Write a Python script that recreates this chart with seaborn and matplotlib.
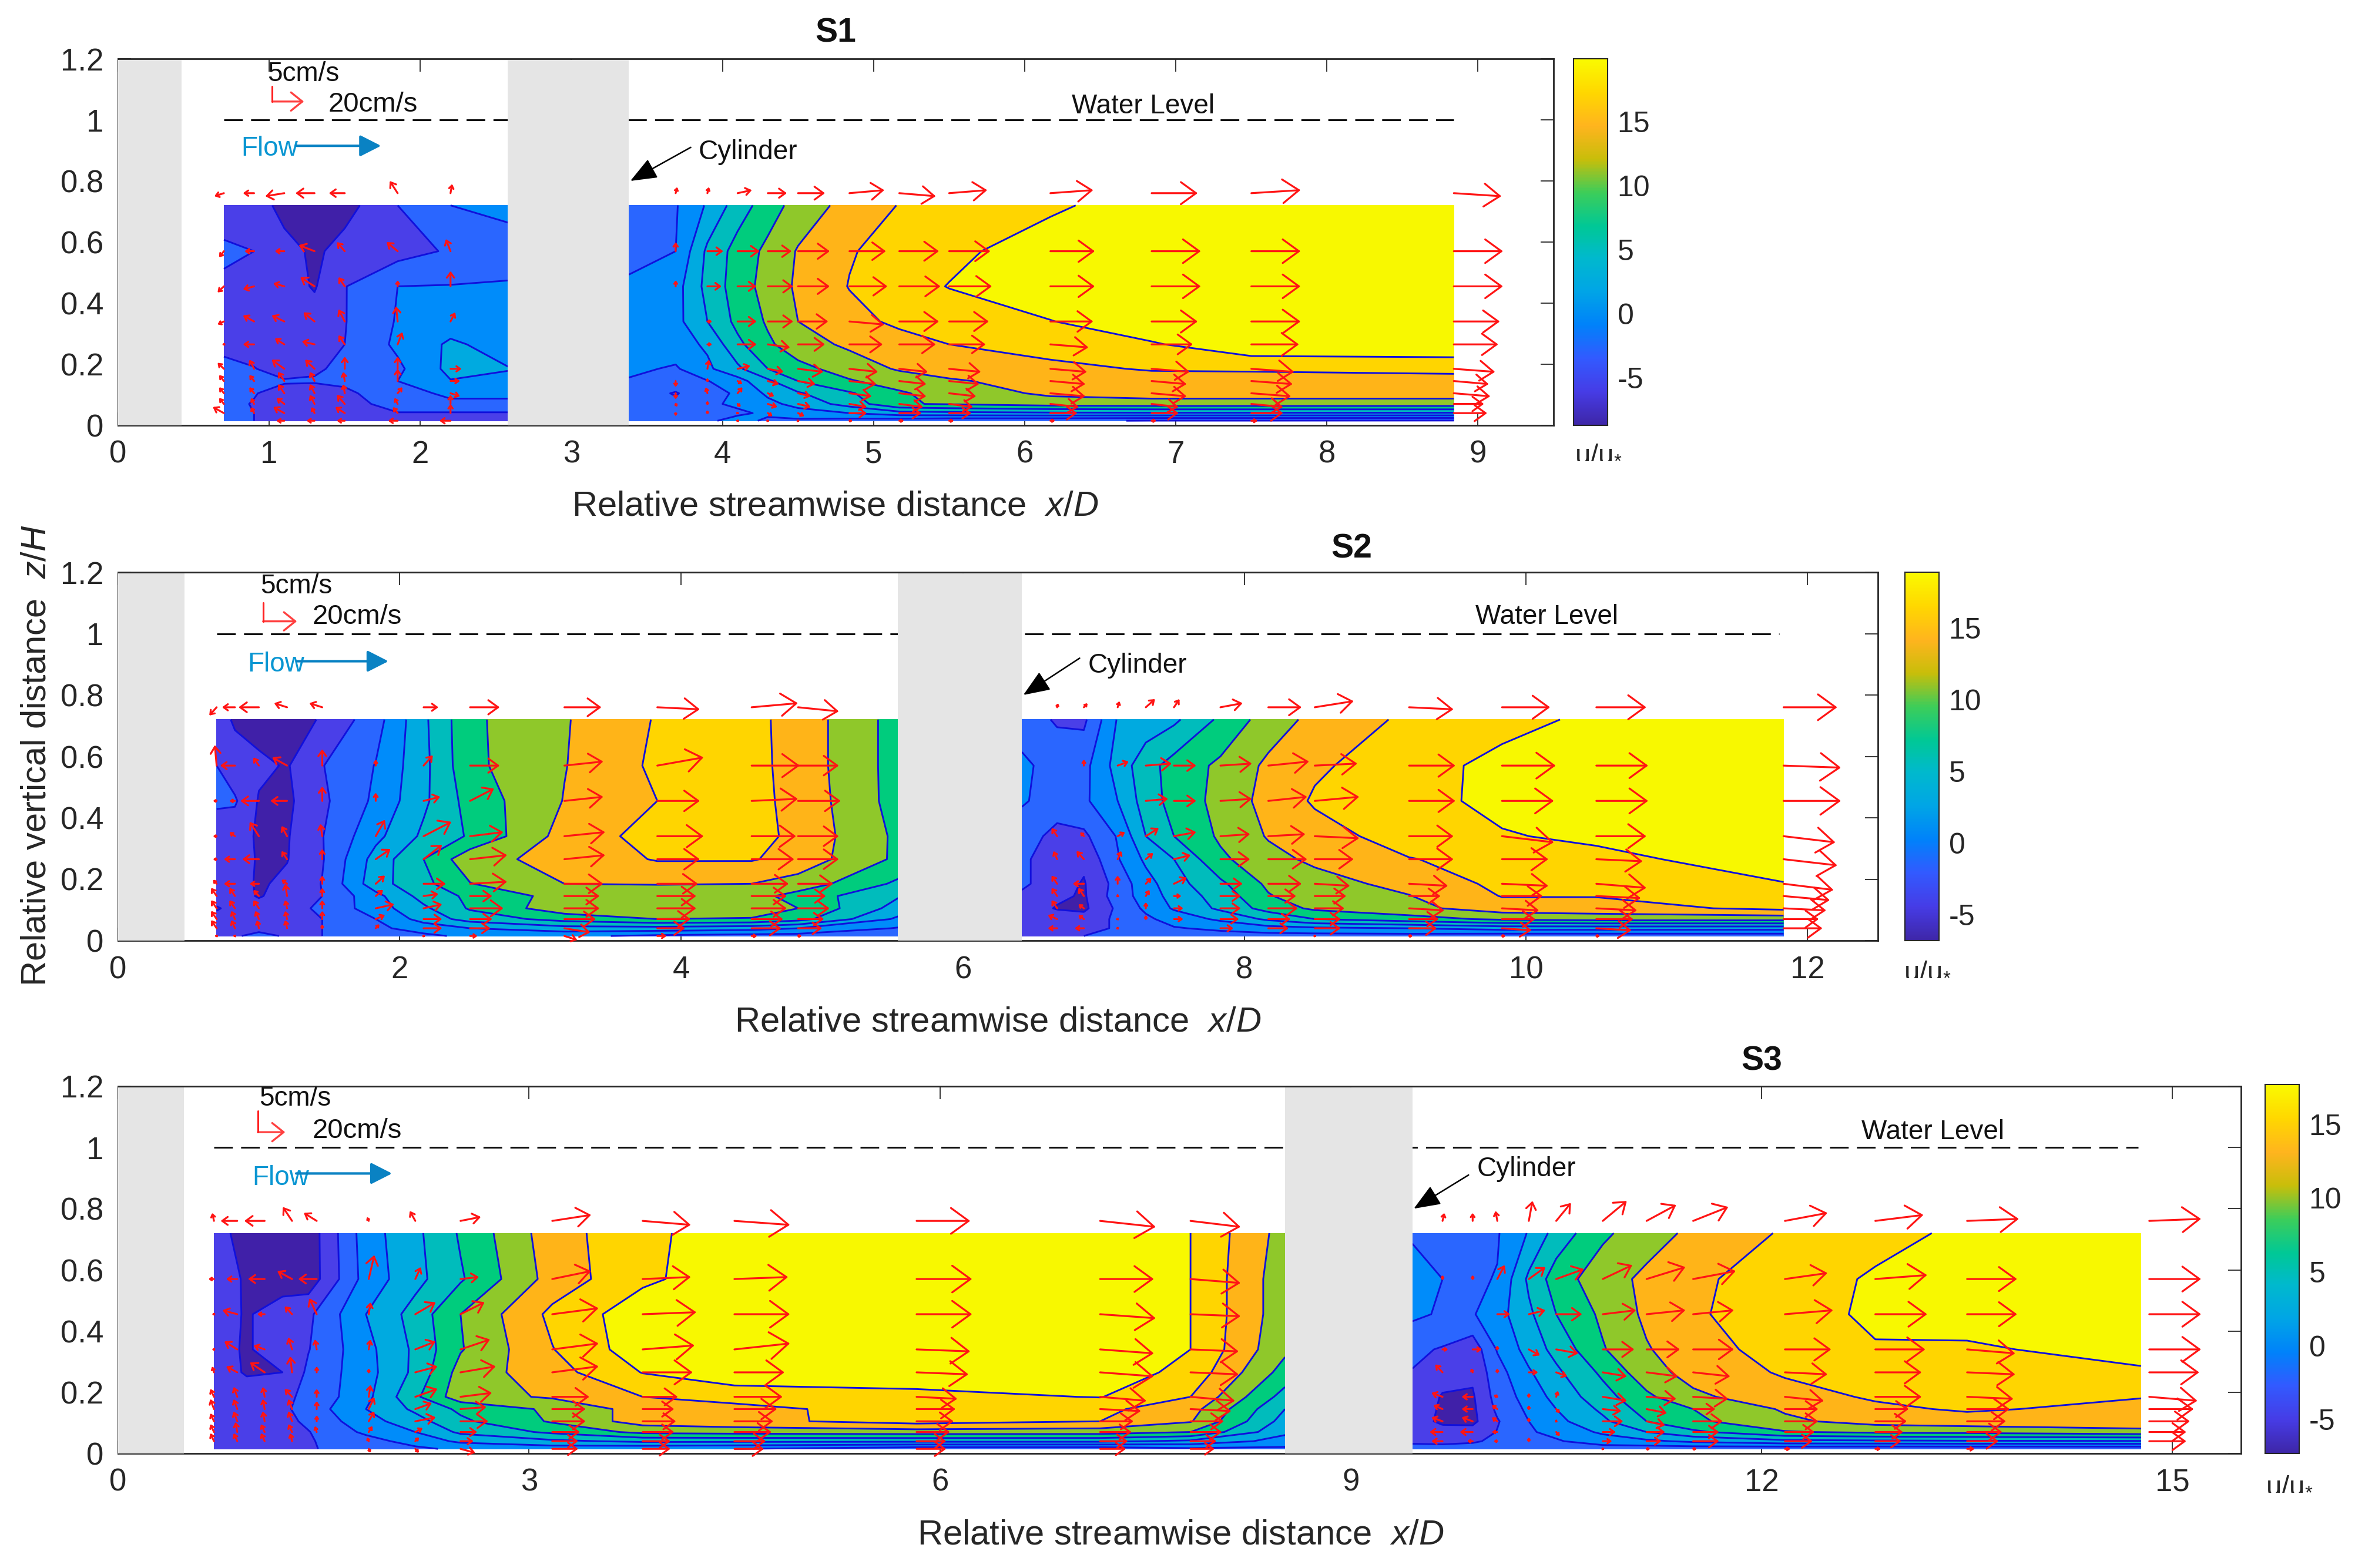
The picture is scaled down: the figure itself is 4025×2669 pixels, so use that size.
import numpy as np
import seaborn as sns
import matplotlib
matplotlib.use("Agg")
import matplotlib.pyplot as plt
from matplotlib.patches import ArrowStyle

# contour levels of u/u* and the height rows of the measured points
LEVELS = [-6, -3.5, -1, 1.5, 4, 6.5, 9, 11.5, 14, 16.5]
Z_ROWS = [0.72, 0.57, 0.455, 0.34, 0.265, 0.185, 0.145, 0.105, 0.07, 0.04, 0.015]
ARROW_ROWS = [0.76, 0.57, 0.455, 0.34, 0.265, 0.185, 0.145, 0.105, 0.07, 0.04, 0.015]

# ---- S1 ----
S1L_XC = [0.7, 0.9, 1.1, 1.3, 1.5, 1.85, 2.2, 2.58]
S1L_C = [
    [-5, -4.5, -7, -7.5, -7, -3.5, -1, -0.4],
    [-3, -3.5, -5, -6.5, -5, -4.5, -3.2, -2],
    [-4, -5, -5, -6.2, -3.6, -1, -0.9, -0.8],
    [-4.5, -5, -5, -5, -3.6, -0.8, 0.3, 0.3],
    [-4, -4.5, -5, -4.8, -3.5, -0.5, 1.9, 0.5],
    [-3, -3.4, -4.5, -3.8, -3, -1.5, 2.2, 1.6],
    [-3, -3.2, -3.3, -3.3, -3, -1, 1.4, 1],
    [-3, -3.4, -4.2, -4.5, -4, -2, -0.5, -0.5],
    [-3, -3.6, -5, -5, -4.5, -2.5, -1.5, -1.5],
    [-3, -3.5, -5, -5, -4.5, -3.6, -3.7, -3.7],
    [-3, -3.5, -5, -5, -5, -4.5, -4.5, -4.5],
]
S1R_XC = [3.38, 3.69, 3.9, 4.1, 4.3, 4.5, 4.84, 5.17, 5.5, 6.17, 6.84, 7.5, 8.84]
S1R_C = [
    [-2, -1.2, 1.8, 5.2, 7.8, 10, 12.4, 14.1, 14.6, 16, 18, 19, 19],
    [-2, -1, 4.5, 7.5, 9.6, 11.7, 13.8, 15, 15.8, 18, 19, 19, 19],
    [-0.5, 0.5, 4.8, 7.7, 10, 11.9, 14.1, 15.4, 16.6, 18.5, 19, 19, 19],
    [0, 0.7, 4, 7.2, 9.3, 11.5, 13.2, 14.5, 15, 16.4, 18.5, 19, 19],
    [0, 0.4, 1.9, 5.9, 8.6, 10.3, 12, 13, 14, 15, 16.2, 18.5, 18.5],
    [-0.5, -1.3, 1, 3.5, 6.5, 8.3, 10, 11.8, 12.6, 13.4, 14.2, 14.3, 14.7],
    [-1.2, -2, -1.1, 0.5, 3.5, 6.5, 8.8, 10, 11.2, 12.5, 13, 13, 13],
    [-2, -3.7, -1.8, -0.7, 2, 3.7, 6.2, 8.7, 10, 12, 12.5, 12.5, 12.5],
    [-2, -3, -1.5, -0.5, 0.8, 2.3, 5, 8.8, 9.2, 10.2, 10.5, 10.5, 10.5],
    [-2, -2.5, -1.6, -1.5, -0.5, 0.5, 1.5, 3, 3.3, 3.6, 3.7, 3.7, 3.7],
    [-2, -2.2, -1.5, 0, -1.5, -1.5, -2, -2.5, -3, -3.2, -3.6, -3.6, -3.7],
]
S1L_XA = [0.7, 0.9, 1.1, 1.3, 1.5, 1.85, 2.2]
S1L_U = [
    [-6, -7, -12, -12, -10, -5, 1],
    [-3, -6, -6, -10, -5, -7, -3],
    [-4, -7, -7, -9, -4, 0, 0],
    [-4, -7, -8, -7, -4, -1, 3],
    [-1, -7, -6, -8, -4, 3, 0],
    [-4, -3, -8, -6, 0, 0, 7],
    [-3, -3, -4, -3, -1, 0, 6],
    [-3, -3, -4, -3, -1, 3, 6],
    [-3, -2, -5, -3, -5, -2, 0],
    [-7, -2, -7, -2, -6, -3, 0],
    [0, 0, -5, -5, -5, -6, -7],
]
S1L_V = [
    [-1, 0, -1, 0, 0, 4, 3],
    [-2, 0, 0, 2, 3, 3, 4],
    [-2, -1, 1, 3, 3, 2, 5],
    [-1, 2, 2, 3, 4, 5, 3],
    [0, 0, 2, 1, 3, 4, 0],
    [2, 3, 3, 3, 4, 4, 0],
    [2, 2, 3, 3, 3, 4, 0],
    [2, 2, 3, 3, 3, 2, -1],
    [2, 2, 2, 3, 3, 2, 3],
    [2, 2, 2, 2, 2, 2, 3],
    [0, 0, 0, 0, 0, 0, 0],
]
S1R_XA = [3.69, 3.9, 4.1, 4.3, 4.5, 4.84, 5.17, 5.5, 6.17, 6.84, 7.5, 8.84]
S1R_U = [
    [1, 1, 9, 12, 17, 22, 23, 24, 27, 29, 31, 30],
    [0, 10, 14, 15, 20, 23, 25, 26, 28, 31, 31, 31],
    [0, 9, 12, 16, 20, 24, 26, 27, 28, 31, 31, 31],
    [0, 3, 12, 16, 19, 22, 25, 25, 27, 29, 31, 29],
    [0, 3, 12, 14, 17, 21, 23, 23, 24, 26, 30, 28],
    [0, 1, 8, 10, 16, 18, 18, 20, 23, 24, 27, 26],
    [0, 0, 3, 7, 11, 17, 17, 19, 22, 22, 26, 22],
    [0, -1, 3, 4, 8, 14, 17, 17, 22, 22, 25, 23],
    [1, 0, 2, 6, 8, 11, 15, 15, 18, 17, 20, 19],
    [0, 0, 1, 3, 4, 11, 14, 14, 17, 17, 20, 21],
    [0, 0, -1, 1, 1, 2, 3, 3, 3, 3, 4, 0],
]
S1R_V = [
    [2, 2, 1, 0, 0, 1, -1, 1, 1, 0, 1, -1],
    [3, 0, 0, 0, 0, 0, 0, 0, 0, 0, 0, 0],
    [2, 0, 0, 0, 0, 0, 0, 0, 0, 0, 0, 0],
    [0, 0, 0, 0, 0, -1, 0, 0, 0, 0, 0, 0],
    [0, 0, 0, -1, 0, 0, 0, 0, -1, 0, 0, 0],
    [0, 3, 1, -1, -1, -1, -1, -1, -1, -1, -1, -1],
    [-2, 1, -1, -1, -1, -1, -1, -1, -1, -1, -1, -1],
    [-2, 2, 2, -1, -1, -1, -1, -1, -1, -1, -1, -1],
    [-1, 1, -1, -1, -1, -1, -1, -1, -1, -1, -1, 0],
    [-1, 1, 0, -1, -1, 0, 0, 0, 0, 0, 0, 0],
    [0, 0, 0, 0, 0, 0, 0, 0, 0, 0, 0, 0],
]

# ---- S2 ----
S2L_XC = [0.7, 0.83, 1.0, 1.2, 1.45, 1.83, 2.17, 2.5, 3.17, 3.83, 4.5, 4.83, 5.54]
S2L_C = [
    [-5, -6.3, -7, -7, -5.8, -2, 3.5, 8.5, 11.3, 14.2, 14.7, 13, 8],
    [-3.5, -5, -5.5, -6.2, -3.6, -0.9, 3.3, 8.4, 11.4, 14.5, 14.8, 13, 8],
    [-3.2, -3.2, -6.2, -6.5, -4, -0.5, 3.5, 7.5, 11.6, 14, 14.8, 13.2, 8],
    [-4.5, -5, -6.3, -6.2, -3.6, 0.8, 4.5, 6.8, 12.5, 15, 15, 13.3, 8.5],
    [-5, -5, -6.2, -6.1, -3.7, 2.5, 6.5, 10.7, 12.3, 14.2, 14.2, 13, 8.5],
    [-4.6, -5, -6.3, -5.5, -3.4, 3, 5.8, 8.9, 11.5, 11.6, 11.5, 10.5, 6],
    [-4.5, -5, -6.2, -5, -3.5, 0.7, 5, 7, 10, 10.4, 10, 8, 4.2],
    [-6.3, -5, -5, -4.5, -3, 0.3, 3.5, 6.8, 10.5, 10.5, 10.5, 9, 3],
    [-5, -5, -4.8, -4.6, -3.5, -1, 2.5, 5, 7.5, 9, 8.8, 7.5, 1],
    [-4.5, -4.5, -4, -4, -3.5, -1.5, 0, 1.5, 3, 3, 2.5, 1.5, -1.2],
    [-4, -3.7, -3, -3.7, -3.5, -2.5, -1.5, -0.5, -0.5, -1.5, -2, -2, -3],
]
S2R_XC = [6.42, 6.67, 6.86, 7.1, 7.3, 7.5, 7.83, 8.17, 8.5, 9.17, 9.83, 10.5, 11.83]
S2R_C = [
    [-2.2, -3.8, -4, 1.7, 2.5, 3.5, 7, 10.2, 12.2, 14.5, 15.7, 17, 18],
    [-0.5, -2, -1.8, 2.5, 5.5, 7.5, 9.5, 12, 13.6, 15.5, 17.2, 18, 18],
    [-0.8, -1.8, -1.5, 1.5, 5.2, 7.4, 9.8, 12.4, 14.3, 15.6, 17.2, 18, 18],
    [-2, -4.5, -4, -0.8, 4, 6.5, 9.4, 11.7, 13, 15.1, 16.3, 17, 18],
    [-3, -5, -5.5, -1.2, 2, 4, 8.5, 10.7, 12, 13.9, 14.8, 15.8, 17.8],
    [-3, -5, -6.2, -2.5, 0.5, 3, 6, 9.5, 10.5, 12.3, 14.6, 15, 16.4],
    [-4, -5.5, -6.3, -2.2, 0, 2.5, 5, 8.8, 10.5, 11.4, 14.1, 14.1, 15.5],
    [-4.5, -6.2, -6.5, -3, -0.5, 1.8, 4.5, 7.5, 9.5, 10.8, 12.8, 13, 14.6],
    [-3.7, -4.5, -5, -3, -1.5, 0, 2, 4.5, 6.5, 8, 9.5, 10, 10],
    [-4, -5, -5, -3, -2, -1.2, -0.5, 0.5, 1, 1.5, 2.5, 2.5, 2.5],
    [-3.6, -3.6, -3.5, -3, -2.5, -2, -2, -2, -2, -2, -2.5, -2.5, -2.5],
]
S2L_XA = [0.7, 0.83, 1.0, 1.2, 1.45, 1.83, 2.17, 2.5, 3.17, 3.83, 4.5, 4.83]
S2L_U = [
    [-4, -7, -11, -7, -7, 0, 8, 16, 20, 23, 25, 22],
    [-1, -8, -3, -8, 0, 0, 5, 16, 21, 25, 26, 22],
    [-2, -3, -10, -9, 0, 0, 9, 13, 21, 23, 25, 23],
    [-2, -3, -5, -3, -1, 5, 15, 18, 22, 25, 24, 22],
    [-2, -6, -9, -3, 0, 8, 10, 20, 22, 23, 23, 22],
    [-2, -6, -5, -3, 0, 5, 12, 20, 21, 22, 20, 19],
    [-3, -3, -3, -1, 0, 4, 8, 12, 19, 21, 19, 15],
    [-3, -3, -3, -1, 0, 10, 10, 18, 19, 21, 19, 17],
    [-3, -2, -2, -1, 0, 5, 10, 12, 17, 18, 17, 14],
    [-3, -2, -1, -1, 0, 2, 10, 11, 14, 15, 16, 13],
    [-1, -1, 0, 0, 0, 0, 1, 4, 7, 5, 3, 2],
]
S2L_V = [
    [-2, 0, 0, 1, 1, 0, 0, 0, 0, -0.5, 1, -1],
    [5, 0, 2, 2, 4, 1.5, 2.5, 0, 1, 2, 0, 0],
    [0, 0, 0, 0, 3.5, 2, 1, 3, 1, 0, 0.5, 0],
    [0, 1, 3.5, 2.5, 3, 4, 3.5, 1, 1, 0, 0, 0],
    [0, 0, 0, 2, 2.5, 2.5, 3.5, 1, 1, 0, 0, 0],
    [1, 0, 0, 1, 2, 2, 0, 0.5, 0, 0, 0, 0],
    [2, 2, 1.5, 3, 2, 1.5, 0.5, 0, 0, 0, 0, 0],
    [2, 2, 2, 2, 2, 1, 1, 0, 0, 0, 0, 0],
    [2, 2, 2, 2, 2, 1, 0, 0, 0, 0, 0, 0],
    [2, 2, 2, 2, 1, 1, 0, 0, -1, 0, 0, 0],
    [0, 0, 0, 0, 0, 0, 0, 0, -1, 0, 0, 0],
]
S2R_XA = [6.67, 6.86, 7.1, 7.3, 7.5, 7.83, 8.17, 8.5, 9.17, 9.83, 10.5, 11.83]
S2R_U = [
    [0.5, 2, 1, 5, 3, 12, 18, 21, 24, 26, 27, 29],
    [0, 0, 6, 14, 12, 17, 22, 23, 25, 29, 28, 31],
    [0, 0, 0, 12, 12, 17, 21, 24, 25, 28, 28, 31],
    [-3, -2, 4, 7, 12, 16, 20, 24, 24, 28, 27, 28],
    [-2, -4, 2, 4, 9, 16, 21, 21, 24, 25, 25, 29],
    [-3, -6, 0, 3, 7, 12, 18, 19, 21, 25, 27, 27],
    [-3, -3, 0, 2, 4, 11, 15, 17, 17, 22, 24, 25],
    [-3, -3, 0, 0, 5, 11, 16, 16, 19, 20, 22, 23],
    [-5, -3, -1, 0, 5, 10, 12, 14, 16, 18, 20, 19],
    [-5, -5, -1, 0, 0, 7, 11, 14, 15, 16, 19, 21],
    [0, 0, 0, 0, 0, 0, 0, 1, 2, 2, 2, 0],
]
S2R_V = [
    [1, 1, 1.5, 2, 2, 1, 0, 1.5, -0.5, 0, 0, 0],
    [0, 1.5, 1, 0.5, 0, 0.5, 1, 0.5, 0, 0, 0, -0.5],
    [0, 0, 0, 0.5, 0, 0.5, 1, 1, 0, 0, 0, 0],
    [2, 1, 1, 2, 1, 0.5, 0.5, -0.5, 0, -1.5, 0, -1.5],
    [2, 2, 2, 1.5, 1, 0, 0, 0, 0, 0, -0.5, -1.5],
    [2, 0, 2, 1.5, 1.5, 0, 0, -0.5, -0.5, -0.5, -1, -1.5],
    [2, 2, 0.5, 1.5, 0, 0, 0, 0, 0, 0, -0.5, -1],
    [2, 1, 0, 1.5, 0, 0, 0, 0, -0.5, -0.5, -0.5, -0.5],
    [1, 1, 0, 1, 0, 0, 0, 0, 0, 0, 0, 0],
    [0, 0, 0, 0, 0, 0, 0, 0, 0, -0.5, -0.5, 0],
    [0, 0, 0, 0, 0, 0, 0, 0, 0, 0, 0, 0],
]

# ---- S3 ----
S3L_XC = [0.7, 0.94, 1.2, 1.39, 1.81, 2.17, 2.5, 3.17, 3.83, 4.5, 5.83, 7.17, 7.83, 8.52]
S3L_C = [
    [-5, -7, -7, -7.5, 0.3, 3.4, 6.8, 12.9, 15.8, 18, 18, 18, 16.5, 10.5],
    [-4.7, -6.3, -7, -7.5, 0, 3.2, 6.2, 12.5, 16, 18, 18, 18, 16.5, 10],
    [-5, -6.2, -5, -4, 1.5, 5, 9, 14.6, 18, 18, 18, 18, 16.5, 10],
    [-5, -6.3, -4.5, -3.6, 0.7, 4.5, 8.8, 13.9, 18, 18, 18, 18, 16.5, 9.5],
    [-5, -6.2, -6, -3, 0.5, 4.6, 10, 13, 16.6, 18, 18, 18, 15.7, 8],
    [-5, -5, -4, -3, 0.8, 6, 10.5, 11.8, 14, 15.2, 15.8, 16.6, 14, 5.5],
    [-4.7, -4.7, -4, -2.5, 1.5, 4.5, 7, 9.5, 12.5, 13, 15.5, 14.6, 12.5, 4],
    [-4.5, -4.5, -4.3, -3, 0.5, 3, 6, 9.3, 12.6, 13.3, 15, 14, 11.7, 3],
    [-4.5, -4.5, -4.3, -3.6, -0.5, 1.5, 4.5, 7, 9.7, 10, 10.3, 10.2, 9, 2],
    [-4.5, -4.5, -4.2, -3.7, -2, 0, 2, 3.5, 4.5, 4.5, 4.5, 4.5, 3.5, 0.5],
    [-4.5, -4.5, -4.2, -3.7, -2.5, -1.5, -0.5, 0, -0.5, -1, -2.5, -2.5, -1.5, -1.5],
]
S3R_XC = [9.45, 9.67, 9.89, 10.07, 10.3, 10.5, 10.84, 11.16, 11.5, 12.17, 12.83, 13.5, 14.77]
S3R_C = [
    [-1.3, -2, -1, -1.2, 1.7, 5, 8.5, 10.5, 12, 14.3, 15.7, 17, 18],
    [0, -1, -1.3, -0.9, 4.5, 7.7, 10.5, 12, 13.5, 15.3, 16.8, 18, 18],
    [-0.5, -1.3, -1.2, 0.5, 3.5, 6.5, 9.5, 12, 13.7, 15.3, 17, 18, 18],
    [-3, -3.7, -5, -0.8, 2.5, 4.8, 8.8, 11.3, 13, 15, 16.3, 16, 17.8],
    [-3.6, -5, -5.5, -2, 1.2, 3.5, 7, 10.5, 12.4, 14.3, 15.3, 15.8, 16],
    [-4.2, -6.2, -6.3, -2.5, 0, 2.3, 5.5, 8.5, 11, 13, 14.3, 14.8, 14.1],
    [-4.8, -6.3, -6.5, -3, -0.5, 1.5, 4.5, 7.5, 9, 11.8, 13.5, 14.3, 13.3],
    [-4.8, -6.5, -6.6, -3.7, -1, 0.8, 3.5, 6.5, 8.5, 11, 12.5, 13, 13.6],
    [-4.5, -5, -5, -3.4, -1.2, -0.5, 2, 4, 6, 8.8, 9.5, 9.7, 10.5],
    [-4, -4.2, -3.8, -3, -2, -1.2, 0, 1, 2, 3.3, 3.5, 3.7, 3.8],
    [-2.5, -2.5, -2.5, -2.5, -2.5, -2, -2, -2.5, -2.5, -2.8, -3, -3, -3],
]
S3L_XA = [0.7, 0.87, 1.07, 1.27, 1.45, 1.83, 2.17, 2.5, 3.17, 3.83, 4.5, 5.83, 7.17, 7.83]
S3L_U = [
    [-1, -9, -11, -5, -7, -1, -3, 11, 21, 26, 30, 29, 30, 27],
    [-3, -6, -9, -8, -10, 3, 3, 10, 21, 26, 29, 30, 29, 27],
    [-1, -8, -4, -4, -4, 1, 11, 13, 25, 29, 30, 30, 30, 27],
    [-1, -7, -6, -2, -1, 1, 11, 16, 25, 28, 30, 29, 29, 26],
    [-1, -6, -8, -1, 0, 0, 12, 19, 25, 27, 27, 28, 29, 26],
    [-2, -2, -1, -4, 0, 1, 12, 17, 20, 19, 26, 22, 25, 24],
    [-2, -2, -1, -2, 0, 3, 9, 14, 18, 17, 23, 21, 22, 22],
    [-2, -2, -1, -2, 0, 3, 11, 15, 18, 18, 21, 20, 18, 18],
    [-2, -1, -2, -2, -1, 2, 4, 9, 15, 17, 20, 18, 17, 17],
    [-2, -2, -2, -1, 0, -1, 2, 7, 14, 15, 17, 16, 15, 14],
    [0, 0, 0, 0, 0, 1, 2, 8, 14, 15, 16, 16, 14, 13],
]
S3L_V = [
    [2, 0, 0, 3.5, 2, 1, 2.5, 1, 1.5, -1, -1, 0, -1.5, -1.5],
    [0, 0, 0, 2, 0, 6, 3, 0.5, 2, 0.5, 0.5, 0, 0, -1],
    [0, 1, 0, 2, 4, 3, 3, 3, 1.5, 0.5, 0, 0, -1, -0.5],
    [0, 2, 1, 3, 2.5, 2.5, 2, 2.5, 1.5, 1, 1.5, -0.5, -1, -0.5],
    [1.5, 1.5, 2.5, 4, 1.5, 1, 1.5, 1.5, 1.5, 0, 0, -0.5, -1, -0.5],
    [2, 2.5, 2.5, 2, 2, 3, 2, 1, 0, 0, 0, -0.5, -1, -1],
    [2.5, 2.5, 2.5, 2.5, 2, 3, 1.5, 0.5, 0, 0, 0, 0, -0.5, -0.5],
    [2, 2.5, 2.5, 2.5, 1.5, 2.5, 1, 0, 0, 0, 0, 0, 0, 0],
    [2, 2.5, 2, 2, 1.5, 1.5, 1, 0, 0, 0, 0, 0, 0, 0],
    [2, 2, 2, 2, 0, 1, 1, 0, 0, 0, 0, 0, 0, 0],
    [0, 0, 0, 0, 0, -1, -1, -1, 0, 0, 0, 0, 0, 0],
]
S3R_XA = [9.67, 9.89, 10.07, 10.3, 10.5, 10.84, 11.16, 11.5, 12.17, 12.83, 13.5, 14.83]
S3R_U = [
    [1, 0, -1, 2, 8, 13, 16, 19, 23, 26, 28, 28],
    [0, 0, 4, 9, 15, 16, 21, 23, 23, 28, 27, 28],
    [0, 0, 7, 9, 14, 18, 21, 22, 26, 28, 27, 28],
    [3, 5, 0, 6, 12, 17, 18, 22, 25, 27, 26, 28],
    [-4, -1, 0, 5, 6, 13, 17, 20, 23, 25, 26, 27],
    [-6, -6, -2, 0, 1, 13, 16, 19, 21, 25, 25, 26],
    [-5, -6, -3, 0, 2, 10, 11, 12, 18, 18, 23, 24],
    [-6, -6, -3, 0, 0, 11, 10, 16, 18, 17, 21, 22],
    [-7, -7, -3, 0, 2, 7, 10, 14, 16, 15, 19, 20],
    [-6, -3, -2, 0, 0, 5, 8, 14, 15, 14, 17, 20],
    [0, 0, 0, 0, 0, 1, 2, 2, 3, 3, 4, 0],
]
S3R_V = [
    [2, 2, 2.5, 5, 4.5, 5, 4, 3.5, 2, 1.5, 0.5, 0.5],
    [1, 1, 3.5, 3, 2.5, 3.5, 3, 2, 1.5, 1, 0, 0],
    [0, 0, 0, 1, 0, 1, 1, 1, 1, 0, 0, 0],
    [0, 0, 1, -1.5, -1, 0, 0, 0, 0, 0, -1, 0],
    [2, 1, 1, 0, -1, -1, -1, -1, -0.5, 0, -0.5, 0],
    [1, 0, 0.5, 1, 1.5, -1, -0.5, -0.5, -1, 0, -0.5, -1],
    [1, 0, 1, 1, -1, -0.5, -1, 0, 0, 0, 0, 0],
    [1, 1, 1, 1, 0.5, 0, -1, 0, 0, 0, 0, 0],
    [0, 0, 0, 0, -1, 0, 0, 0, 0, 0, 0, 0],
    [0, 0, 0, 1, 0, 0, 0, 0, 0, 0, 0, 0],
    [0, 0, 0, 0, 0, 0, 0, 0, 0, 0, 0, 0],
]

S1_XTICKS = [0, 1, 2, 3, 4, 5, 6, 7, 8, 9]
S2_XTICKS = [0, 2, 4, 6, 8, 10, 12]
S3_XTICKS = [0, 3, 6, 9, 12, 15]
YTICKS = [0, 0.2, 0.4, 0.6, 0.8, 1, 1.2]
YTICK_LABELS = ["0", "0.2", "0.4", "0.6", "0.8", "1", "1.2"]
CBAR_TICKS = [-5, 0, 5, 10, 15]

BAND_COLORS = ["#4020a8", "#4a3fe8", "#2a66ff", "#008cfa", "#00aae0", "#00bcbc",
               "#00cc7d", "#8fc82a", "#ffb418", "#ffd500", "#f8f800"]
CBAR_COLORS = ["#3e26a8", "#463cE6", "#325aff", "#0082fa", "#00a5e6", "#00b9cd",
               "#00c896", "#3ccd5a", "#c8be0a", "#ffb41e", "#ffd700", "#fafa00"]

W, H = 4025, 2669
DPI = 100

sns.set_style("white")
plt.rcParams["font.family"] = ["Liberation Sans", "DejaVu Sans"]
plt.rcParams["mathtext.fontset"] = "custom"
plt.rcParams["mathtext.rm"] = "Liberation Sans"
plt.rcParams["mathtext.it"] = "Liberation Sans:italic"
plt.rcParams["mathtext.default"] = "regular"
plt.rcParams["axes.unicode_minus"] = False

fig = plt.figure(figsize=(W / DPI, H / DPI), dpi=DPI)
fills = sns.color_palette(BAND_COLORS)
bar_cmap = sns.blend_palette(CBAR_COLORS, as_cmap=True)


def px_axes(left, top, right, bottom):
    return fig.add_axes([left / W, 1 - bottom / H, (right - left) / W, (bottom - top) / H])


def px_text(x, y, s, **kw):
    fig.text(x / W, 1 - y / H, s, ha=kw.pop("ha", "center"), va="center", **kw)


def draw_arrows(ax, xs, us, vs, ku, kv):
    for row, z in enumerate(ARROW_ROWS):
        for col, x in enumerate(xs):
            dx = us[row][col] * ku
            dy = vs[row][col] * kv
            length = np.hypot(dx, dy)
            if length == 0:
                continue
            # open chevron head that grows with the arrow, as quiver does in matlab
            style = ArrowStyle("<-", head_length=0.33 * length * 0.72, head_width=0.24 * length * 0.72)
            ax.annotate("", xy=(x, z), xytext=(dx, dy), textcoords="offset pixels",
                        arrowprops=dict(arrowstyle=style, color="#ff1414", lw=2.3,
                                        shrinkA=0, shrinkB=0, mutation_scale=1), zorder=6)


def draw_panel(box, xmax, xticks, gap, segments, water_end, notes):
    ax = px_axes(*box)
    ax.set_xlim(0, xmax)
    ax.set_ylim(0, 1.2)
    zc = np.array(Z_ROWS)[::-1]
    for xc, vals in segments:
        grid = np.array(vals)[::-1]
        ax.contourf(xc, zc, grid, levels=LEVELS, colors=fills, extend="both", zorder=1)
        ax.contour(xc, zc, grid, levels=LEVELS, colors="#1010dc", linewidths=2.1,
                   linestyles="solid", zorder=2)
    ax.plot([0.7, water_end], [1, 1], color="#111111", lw=2.2, dashes=(10.4, 4.6),
            dash_capstyle="butt", zorder=2)
    ax.axvspan(0, gap[0], ymax=0.997, color="#e5e5e5", lw=0, zorder=3)
    ax.axvspan(gap[1], gap[2], ymax=0.997, color="#e5e5e5", lw=0, zorder=3)
    ax.set_xticks(xticks)
    ax.set_yticks(YTICKS, YTICK_LABELS)
    ax.tick_params(direction="in", length=16, width=1.3, top=True, right=True, left=True,
                   bottom=True, labelsize=38, colors="#262626", pad=18)
    for s in ax.spines.values():
        s.set_linewidth(2)
        s.set_color("#262626")
    for s in ["top", "right"]:
        ax.spines[s].set_zorder(4)

    # velocity key, flow arrow, cylinder and water level notes
    kx0, kz0, kz1, kx1 = notes["key"]
    ax.plot([kx0, kx0], [kz0, kz1], color="#ff2020", lw=2.2, zorder=6)
    ax.annotate("", xy=(kx1, kz1), xytext=(kx0, kz1),
                arrowprops=dict(arrowstyle="->,head_length=0.35,head_width=0.28", color="#ff4040",
                                lw=2.4, shrinkA=0, shrinkB=0, mutation_scale=40))
    ax.text(*notes["five"], "5cm/s", fontsize=33, va="center", color="#111111")
    ax.text(*notes["twenty"], "20cm/s", fontsize=34, va="center", color="#111111")
    ax.text(*notes["flow"], "Flow", fontsize=33, va="center", color="#0a96d2")
    fx0, fx1, fz = notes["flow_arrow"]
    ax.annotate("", xy=(fx1, fz), xytext=(fx0, fz),
                arrowprops=dict(arrowstyle="-|>,head_length=0.55,head_width=0.28", color="#0a82c3",
                                lw=3, shrinkA=0, shrinkB=0, mutation_scale=40))
    ax.text(*notes["cyl"], "Cylinder", fontsize=33, va="center", color="#111111")
    cx0, cz0, cx1, cz1 = notes["cyl_arrow"]
    ax.annotate("", xy=(cx1, cz1), xytext=(cx0, cz0), zorder=7,
                arrowprops=dict(arrowstyle="-|>,head_length=0.7,head_width=0.28", color="black",
                                lw=1.8, shrinkA=0, shrinkB=0, mutation_scale=40))
    ax.text(*notes["water"], "Water Level", fontsize=33, va="center", color="#111111")
    return ax


def draw_cbar(box, lo, hi, label_px):
    cax = px_axes(*box)
    vals = np.linspace(lo, hi, 256)
    cax.pcolormesh([0, 1], vals, np.c_[vals[:-1]], cmap=bar_cmap, shading="flat")
    cax.set_xticks([])
    cax.yaxis.tick_right()
    cax.set_yticks(CBAR_TICKS)
    cax.tick_params(axis="y", direction="in", length=5, width=1.3, labelsize=36,
                    colors="#262626", pad=12)
    for s in cax.spines.values():
        s.set_linewidth(1.5)
        s.set_color("#262626")
    px_text(label_px[0], label_px[1], "u/u$_{*}$", fontsize=34, ha="left", color="#262626")


ax1 = draw_panel((201, 100, 2644, 724), 9.5, S1_XTICKS, (0.42, 2.58, 3.38),
                 [(S1L_XC, S1L_C), (S1R_XC, S1R_C)], 8.84,
                 dict(key=(1.02, 1.11, 1.06, 1.23), five=(0.99, 1.15), twenty=(1.39, 1.05),
                      flow=(0.815, 0.905), flow_arrow=(1.18, 1.74, 0.915),
                      cyl=(3.84, 0.895), cyl_arrow=(3.79, 0.91, 3.39, 0.80), water=(6.31, 1.045)))
draw_arrows(ax1, S1L_XA, S1L_U, S1L_V, 2.7, 5.2)
draw_arrows(ax1, S1R_XA, S1R_U, S1R_V, 2.7, 5.2)
draw_cbar((2678, 100, 2736, 724), -8.7, 19.9, (2680, 770))

ax2 = draw_panel((201, 974, 3196, 1601), 12.5, S2_XTICKS, (0.47, 5.54, 6.42),
                 [(S2L_XC, S2L_C), (S2R_XC, S2R_C)], 11.8,
                 dict(key=(1.03, 1.10, 1.04, 1.27), five=(1.01, 1.155), twenty=(1.38, 1.055),
                      flow=(0.92, 0.9), flow_arrow=(1.27, 1.92, 0.91),
                      cyl=(6.89, 0.895), cyl_arrow=(6.83, 0.92, 6.43, 0.80), water=(9.64, 1.055)))
draw_arrows(ax2, S2L_XA, S2L_U, S2L_V, 3.15, 7)
draw_arrows(ax2, S2R_XA, S2R_U, S2R_V, 3.15, 7)
draw_cbar((3242, 974, 3300, 1601), -6.8, 18.9, (3240, 1650))

ax3 = draw_panel((201, 1849, 3814, 2474), 15.5, S3_XTICKS, (0.48, 8.52, 9.45),
                 [(S3L_XC, S3L_C), (S3R_XC, S3R_C)], 14.75,
                 dict(key=(1.02, 1.12, 1.05, 1.22), five=(1.03, 1.16), twenty=(1.42, 1.055),
                      flow=(0.98, 0.9), flow_arrow=(1.3, 2.0, 0.915),
                      cyl=(9.92, 0.93), cyl_arrow=(9.86, 0.91, 9.46, 0.80), water=(12.73, 1.05)))
draw_arrows(ax3, S3L_XA, S3L_U, S3L_V, 3.15, 6.8)
draw_arrows(ax3, S3R_XA, S3R_U, S3R_V, 3.15, 6.8)
draw_cbar((3855, 1846, 3913, 2474), -7.3, 17.7, (3856, 2526))

# titles and axis labels
px_text(1422, 56, "S1", fontsize=41, fontweight="bold", color="#111111")
px_text(2300, 934, "S2", fontsize=41, fontweight="bold", color="#111111")
px_text(2998, 1807, "S3", fontsize=41, fontweight="bold", color="#111111")
XLABEL = "Relative streamwise distance  $\\mathit{x/D}$"
px_text(1421, 862, XLABEL, fontsize=43, color="#262626")
px_text(1698, 1740, XLABEL, fontsize=43, color="#262626")
px_text(2009, 2613, XLABEL, fontsize=43, color="#262626")
px_text(62, 1286, "Relative vertical distance  $\\mathit{z/H}$", fontsize=43, rotation=90, color="#262626")

fig.savefig("out.png", dpi=DPI)
